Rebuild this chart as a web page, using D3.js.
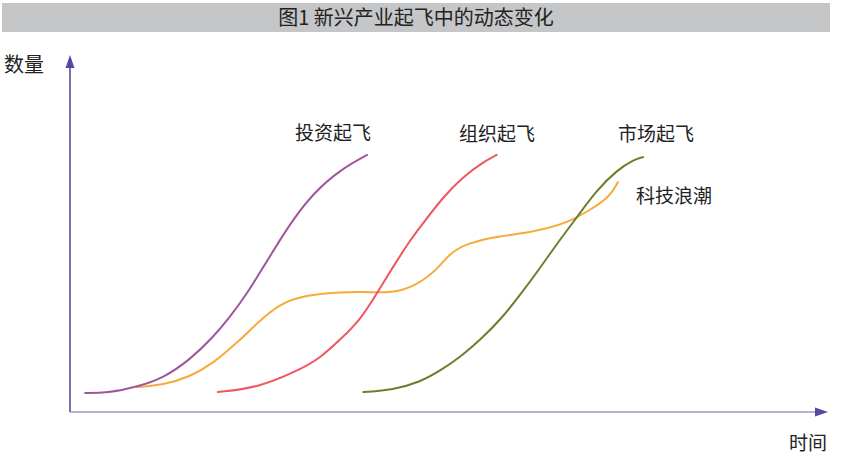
<!DOCTYPE html>
<html>
<head>
<meta charset="utf-8">
<script src="https://cdn.jsdelivr.net/npm/d3@7"></script>
<style>
  body { margin: 0; background: #fff; }
  text { font-family: "Noto Sans CJK SC", "Noto Sans", sans-serif; fill: #222; }
</style>
</head>
<body>
<div id="chart"></div>
<script>
var w = 842;
var h = 459;

// chart text
var title = "图1 新兴产业起飞中的动态变化";
var yLabel = "数量";
var xLabel = "时间";

// curves, in time / quantity units (0..100)
var seriesNames = ["投资起飞", "组织起飞", "市场起飞", "科技浪潮"];
var seriesColors = ["#a0569c", "#ee5662", "#6b7f2b", "#f7aa3b"];

var investT = [2.0, 4.9, 8.8, 12.3, 15.8, 18.9, 21.1, 23.4, 25.5, 27.7, 29.4, 32.1, 35.6, 39.2];
var investQ = [5.3, 5.3, 7.0, 9.5, 14.6, 21.0, 26.6, 33.3, 40.6, 48.2, 53.8, 61.3, 67.8, 72.0];

var orgT = [19.5, 24.7, 30.3, 33.0, 35.6, 38.3, 40.5, 42.6, 44.9, 46.2, 49.2, 51.8, 54.5, 56.3];
var orgQ = [5.6, 6.7, 11.8, 15.1, 20.2, 25.8, 33.3, 40.6, 48.2, 51.8, 60.2, 65.8, 70.0, 72.0];

var marketT = [38.7, 42.6, 46.2, 48.8, 51.5, 54.1, 56.7, 59.4, 62.0, 64.4, 66.9, 69.5, 72.2, 74.3, 75.6];
var marketQ = [5.6, 6.2, 8.4, 11.5, 15.4, 20.2, 25.6, 32.8, 40.3, 47.6, 54.6, 62.2, 67.8, 70.6, 71.4];

var techT = [8.8, 12.3, 15.8, 18.9, 22.0, 24.7, 27.7, 31.3, 35.6, 40.0, 42.6, 45.8, 48.4, 50.1, 52.4, 56.7, 61.1, 65.6, 68.6, 71.2, 72.3];
var techQ = [7.0, 7.6, 9.8, 13.7, 19.3, 24.9, 30.5, 32.8, 33.6, 33.6, 33.3, 35.6, 39.8, 44.5, 47.3, 49.3, 50.4, 52.9, 56.6, 60.2, 64.4];

var seriesT = [investT, orgT, marketT, techT];
var seriesQ = [investQ, orgQ, marketQ, techQ];

var svg = d3.select("#chart")
  .append("svg")
  .attr("width", w)
  .attr("height", h);

// title bar
svg.append("rect")
  .attr("x", 2).attr("y", 3)
  .attr("width", 828).attr("height", 29)
  .attr("fill", "#c5c6c8");
svg.append("text")
  .attr("x", 416).attr("y", 25)
  .attr("text-anchor", "middle")
  .style("font-size", "20px")
  .text(title);

var xScale = d3.scaleLinear().domain([0, 100]).range([70, 828]);
var yScale = d3.scaleLinear().domain([0, 100]).range([412, 55]);

// axes with arrow heads
svg.append("line")
  .attr("x1", xScale(0)).attr("y1", yScale(0))
  .attr("x2", xScale(0)).attr("y2", yScale(100) + 10)
  .attr("stroke", "#4d3f9c").attr("stroke-width", 1.5);
svg.append("line")
  .attr("x1", xScale(0)).attr("y1", yScale(0))
  .attr("x2", xScale(100) - 10).attr("y2", yScale(0))
  .attr("stroke", "#a096cc").attr("stroke-width", 1.6);

var yTip = [xScale(0), yScale(100)];
svg.append("path")
  .attr("d", "M" + yTip[0] + "," + yTip[1] + "L" + (yTip[0] - 4.5) + "," + (yTip[1] + 13) + "L" + (yTip[0] + 4.5) + "," + (yTip[1] + 13) + "Z")
  .attr("fill", "#5647a3");
var xTip = [xScale(100), yScale(0)];
svg.append("path")
  .attr("d", "M" + xTip[0] + "," + xTip[1] + "L" + (xTip[0] - 13) + "," + (xTip[1] - 4.5) + "L" + (xTip[0] - 13) + "," + (xTip[1] + 4.5) + "Z")
  .attr("fill", "#5647a3");

svg.append("text")
  .attr("x", 4).attr("y", 72)
  .style("font-size", "20px")
  .text(yLabel);
svg.append("text")
  .attr("x", 789).attr("y", 450)
  .style("font-size", "19px")
  .text(xLabel);

var line = d3.line()
  .x(function(d) { return xScale(d[0]); })
  .y(function(d) { return yScale(d[1]); })
  .curve(d3.curveBasis);

// draw orange first so the others sit on top
[3, 0, 1, 2].forEach(function(i) {
  var pts = seriesT[i].map(function(t, j) { return [t, seriesQ[i][j]]; });
  svg.append("path")
    .datum(pts)
    .attr("d", line)
    .attr("fill", "none")
    .attr("stroke", seriesColors[i])
    .attr("stroke-width", 2)
    .attr("stroke-linecap", "round");
});

// curve labels
var labelX = [333, 497, 656, 674];
var labelY = [140, 141, 141, 203];
seriesNames.forEach(function(name, i) {
  svg.append("text")
    .attr("x", labelX[i]).attr("y", labelY[i])
    .attr("text-anchor", "middle")
    .style("font-size", "19px")
    .text(name);
});
</script>
</body>
</html>
